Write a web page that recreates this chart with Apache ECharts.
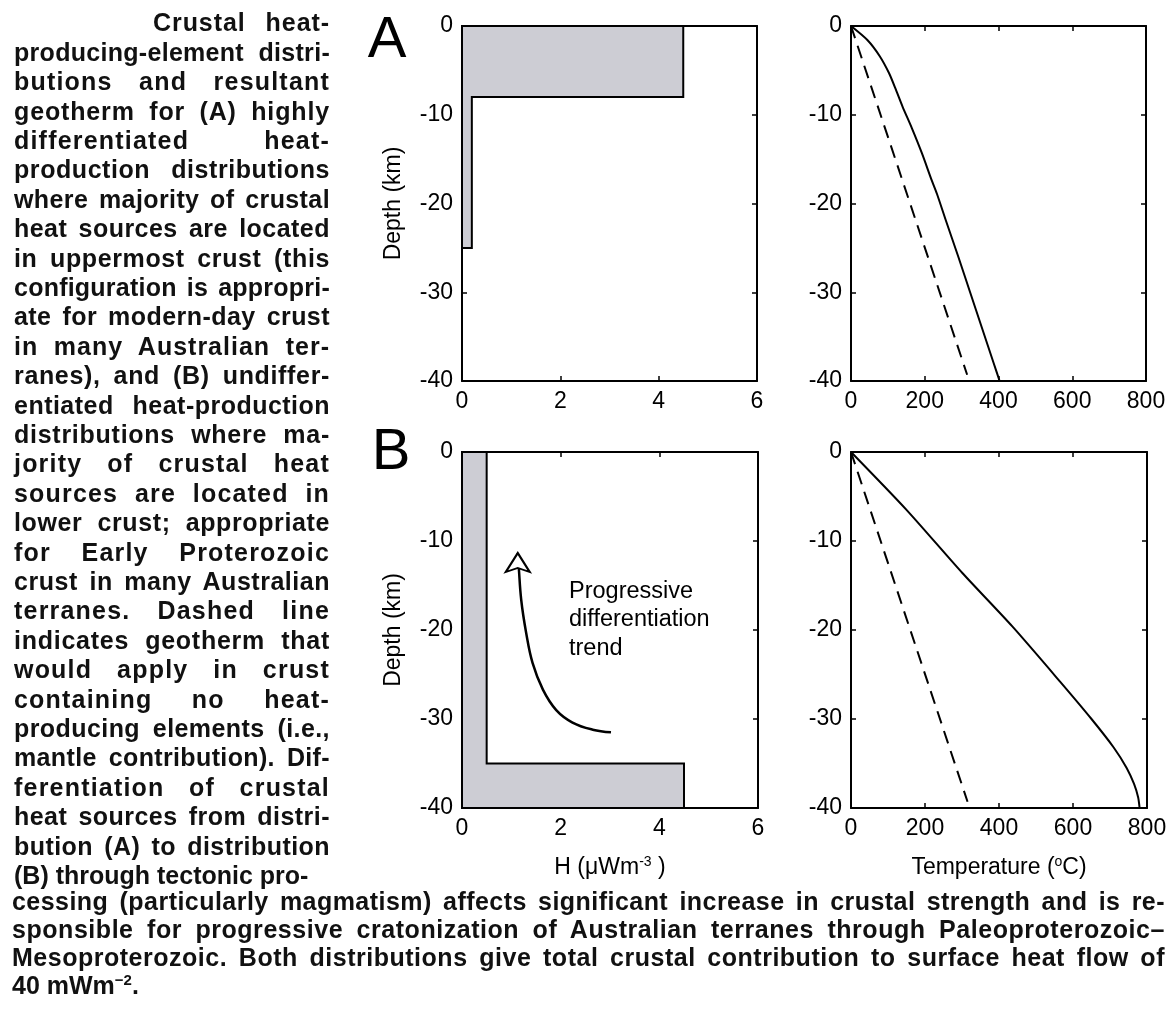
<!DOCTYPE html>
<html>
<head>
<meta charset="utf-8">
<script src="https://cdn.jsdelivr.net/npm/echarts@6/dist/echarts.min.js"></script>
<style>
  body { margin: 0; background: #fff; }
  #chart { position: absolute; left: 0; top: 0; width: 1175px; height: 1017px; }
  .ln { position: absolute; font-family: "Liberation Sans", Arial, sans-serif; font-weight: bold;
        font-size: 25px; line-height: 30px; height: 30px; color: #111; white-space: nowrap; }
  sup { font-size: 15px; line-height: 0; vertical-align: 9px; }
</style>
</head>
<body>
<div id="chart"></div>
<div id="caption"></div>
<script>
// caption lines (left column, then full-width tail)
const colLines = [
    "Crustal heat-",
    "producing-element distri-",
    "butions and resultant",
    "geotherm for (A) highly",
    "differentiated heat-",
    "production distributions",
    "where majority of crustal",
    "heat sources are located",
    "in uppermost crust (this",
    "configuration is appropri-",
    "ate for modern-day crust",
    "in many Australian ter-",
    "ranes), and (B) undiffer-",
    "entiated heat-production",
    "distributions where ma-",
    "jority of crustal heat",
    "sources are located in",
    "lower crust; appropriate",
    "for Early Proterozoic",
    "crust in many Australian",
    "terranes. Dashed line",
    "indicates geotherm that",
    "would apply in crust",
    "containing no heat-",
    "producing elements (i.e.,",
    "mantle contribution). Dif-",
    "ferentiation of crustal",
    "heat sources from distri-",
    "bution (A) to distribution",
    "(B) through tectonic pro-"
];
const wideLines = [
    "cessing (particularly magmatism) affects significant increase in crustal strength and is re-",
    "sponsible for progressive cratonization of Australian terranes through Paleoproterozoic–",
    "Mesoproterozoic. Both distributions give total crustal contribution to surface heat flow of",
    "40 mWm<sup>−2</sup>."
];

// heat production distributions (H in µW/m3, depth in km)
const heatA_H = [0, 4.5, 4.5, 0.2, 0.2, 0];
const heatA_z = [0, 0, -8, -8, -25, -25];
const heatB_H = [0, 0.5, 0.5, 4.5, 4.5, 0];
const heatB_z = [0, 0, -35, -35, -40, -40];

// geotherms (T in °C, depth in km)
const geoA_T = [0, 45, 78, 103, 122, 140, 165, 192, 219, 233, 258, 291, 323, 355, 387, 403];
const geoA_z = [0, -1.6, -3.4, -5.3, -7.2, -9.1, -11.5, -14.3, -17.4, -18.9, -22, -26, -30, -34, -38, -40];
const geoB_T = [0, 150, 301, 436, 565, 650, 710, 745, 765, 776, 780];
const geoB_z = [0, -6.5, -13.6, -19.6, -25.8, -30, -33.2, -35.5, -37.3, -38.8, -40];
const mantle_T = [0, 315];
const mantle_z = [0, -39.3];

// "progressive differentiation trend" arrow
const trend_H = [3.02, 2.65, 2.24, 1.91, 1.64, 1.43, 1.30, 1.20, 1.15, 1.13];
const trend_z = [-31.5, -31.2, -30.4, -29.0, -26.7, -23.7, -20.3, -16.6, -12.9, -11.35];

// --- caption text: justified lines, part of the slack goes into letter spacing ---
const cap = document.getElementById("caption");
function placeLine(html, left, base, width, justify) {
    const d = document.createElement("div");
    d.className = "ln";
    d.style.left = left + "px";
    d.style.top = (base - 23.7) + "px";
    d.innerHTML = html;
    cap.appendChild(d);
    const natural = d.getBoundingClientRect().width;
    const nChars = d.textContent.length;
    if (natural > width) {
        d.style.letterSpacing = ((width - natural) / nChars) + "px";
    } else if (justify) {
        const extra = width - natural;
        const ls = Math.min(extra * 0.5 / nChars, 1.2);
        d.style.letterSpacing = ls + "px";
        d.style.whiteSpace = "normal";
        d.style.width = width + "px";
        d.style.textAlign = "justify";
        d.style.textAlignLast = "justify";
    }
}
colLines.forEach(function (t, i) {
    const last = i === colLines.length - 1;
    placeLine(t, i === 0 ? 153 : 14, 31 + i * 29.4, i === 0 ? 177 : 316, !last);
});
wideLines.forEach(function (t, i) {
    const last = i === wideLines.length - 1;
    placeLine(t, 12, 910 + i * 28, 1153, !last);
});

// --- chart ---
const FONT = "'Liberation Sans', Arial, sans-serif";
const pairs = (xs, ys) => xs.map((x, i) => [x, ys[i]]);

const axisCommon = {
    type: 'value',
    axisLine: { onZero: false, lineStyle: { color: '#000', width: 2 } },
    axisTick: { inside: true, length: 5, lineStyle: { color: '#000', width: 1.5 } },
    splitLine: { show: false },
    axisLabel: { color: '#000', fontSize: 23, fontFamily: FONT, margin: 9 }
};
const nameStyle = {
    color: '#000', fontSize: 23, fontFamily: FONT,
    rich: { sup: { fontSize: 14, fontFamily: FONT, color: '#000', verticalAlign: 'top', padding: [0, 0, 12, 0] } }
};

function xAxes(g, max, interval, name) {
    return [
        Object.assign({}, axisCommon, { gridIndex: g, min: 0, max: max, interval: interval, position: 'bottom',
            name: name || '', nameLocation: 'middle', nameGap: 47, nameTextStyle: nameStyle }),
        Object.assign({}, axisCommon, { gridIndex: g, min: 0, max: max, interval: interval, position: 'top',
            axisLabel: { show: false } })
    ];
}
function yAxes(g, name) {
    return [
        Object.assign({}, axisCommon, { gridIndex: g, min: -40, max: 0, interval: 10, position: 'left',
            name: name || '', nameLocation: 'middle', nameGap: 57, nameTextStyle: nameStyle }),
        Object.assign({}, axisCommon, { gridIndex: g, min: -40, max: 0, interval: 10, position: 'right',
            axisLabel: { show: false } })
    ];
}

function heatSeries(g, hs, zs) {
    return {
        type: 'custom',
        xAxisIndex: 2 * g, yAxisIndex: 2 * g,
        data: pairs(hs, zs),
        encode: { x: 0, y: 1 },
        renderItem: function (params, api) {
            if (params.dataIndex !== 0) return;
            const pts = hs.map((h, i) => api.coord([h, zs[i]]));
            return {
                type: 'polygon',
                shape: { points: pts },
                style: { fill: '#cdcdd4', stroke: '#000', lineWidth: 2 }
            };
        }
    };
}
function lineSeries(g, xs, ys, dashed) {
    return {
        type: 'line',
        xAxisIndex: 2 * g, yAxisIndex: 2 * g,
        data: pairs(xs, ys),
        symbol: 'none',
        smooth: 0.25,
        lineStyle: { color: '#000', width: 2, type: dashed ? [13, 8] : 'solid' },
        z: 3
    };
}

const chart = echarts.init(document.getElementById('chart'));
const option = {
    animation: false,
    backgroundColor: '#fff',
    grid: [
        { left: 462, top: 26, width: 295, height: 355 },
        { left: 851, top: 26, width: 295, height: 355 },
        { left: 462, top: 452, width: 296, height: 356 },
        { left: 851, top: 452, width: 296, height: 356 }
    ],
    xAxis: [].concat(
        xAxes(0, 6, 2),
        xAxes(1, 800, 200),
        xAxes(2, 6, 2, 'H (μWm{sup|-3} )'),
        xAxes(3, 800, 200, 'Temperature ({sup|o}C)')
    ),
    yAxis: [].concat(
        yAxes(0, 'Depth (km)'),
        yAxes(1),
        yAxes(2, 'Depth (km)'),
        yAxes(3)
    ),
    series: [
        heatSeries(0, heatA_H, heatA_z),
        lineSeries(1, geoA_T, geoA_z, false),
        lineSeries(1, mantle_T, mantle_z, true),
        heatSeries(2, heatB_H, heatB_z),
        Object.assign(lineSeries(2, trend_H, trend_z, false), { lineStyle: { color: '#000', width: 2.5 }, smooth: 0.4 }),
        {
            type: 'scatter',
            xAxisIndex: 4, yAxisIndex: 4,
            data: [[trend_H[trend_H.length - 1], trend_z[trend_z.length - 1]]],
            symbol: 'path://M0,0 L12,19 L0,15 L-12,19 Z',
            symbolSize: [24, 19],
            symbolOffset: [0, '50%'],
            itemStyle: { color: '#fff', borderColor: '#000', borderWidth: 2, opacity: 1 },
            z: 5
        },
        lineSeries(3, geoB_T, geoB_z, false),
        lineSeries(3, mantle_T, mantle_z, true)
    ],
    graphic: [
        { type: 'text', x: 387, y: 41, style: { text: 'A', fontSize: 58, fontFamily: FONT, fill: '#000', align: 'center', verticalAlign: 'middle' } },
        { type: 'text', x: 391, y: 453, style: { text: 'B', fontSize: 58, fontFamily: FONT, fill: '#000', align: 'center', verticalAlign: 'middle' } },
        { type: 'text', x: 569, y: 620, style: { text: 'Progressive\ndifferentiation\ntrend', fontSize: 23.5, lineHeight: 28.5, fontFamily: FONT, fill: '#000', align: 'left', verticalAlign: 'middle' } }
    ]
};
chart.setOption(option);
</script>
</body>
</html>
